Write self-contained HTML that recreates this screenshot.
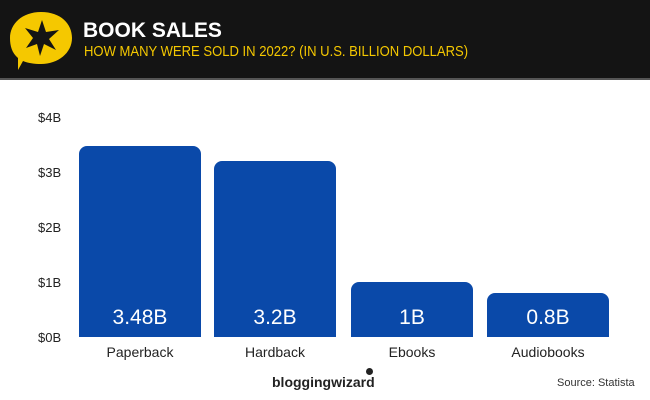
<!DOCTYPE html>
<html><head><style>
body{margin:0;width:650px;height:400px;background:#fff;font-family:"Liberation Sans",sans-serif;position:relative;overflow:hidden}
.hdr{position:absolute;left:0;top:0;width:650px;height:78px;background:#141414;border-bottom:2px solid #555}
.t1{position:absolute;left:83px;top:19px;color:#fff;font-weight:bold;font-size:21px}
.t2{position:absolute;left:84px;top:43px;color:#f5c800;font-size:15px;transform:scaleX(0.87);transform-origin:left}
.yl{position:absolute;left:38px;font-size:13px;color:#222}
.bar{position:absolute;background:#0a49a9;border-radius:8px 8px 0 0;bottom:63px;width:122px;color:#fff;font-size:21px;text-align:center}
.bar span{position:absolute;left:0;right:0;bottom:7px}
.cl{position:absolute;top:344px;width:122px;text-align:center;font-size:14px;color:#222}
</style></head><body>
<div class="hdr">
<svg width="70" height="70" style="position:absolute;left:6px;top:8px" viewBox="0 0 70 70">
<path d="M35 4 C55 4 66 16 66 30 C66 45 52 56 35 56 C28 56 22 55 17 53 L12 62 L12 50 C6 45 4 38 4 30 C4 16 16 4 35 4Z" fill="#f5c800"/>
<path d="M36 12 L40 24 L53 22 L43 31 L50 42 L38 36 L34 48 L31 36 L20 40 L27 30 L19 20 L32 24Z" fill="#141414"/>
</svg>
<div class="t1">BOOK SALES</div>
<div class="t2">HOW MANY WERE SOLD IN 2022? (IN U.S. BILLION DOLLARS)</div>
</div>
<div class="yl" style="top:110px">$4B</div>
<div class="yl" style="top:165px">$3B</div>
<div class="yl" style="top:220px">$2B</div>
<div class="yl" style="top:275px">$1B</div>
<div class="yl" style="top:330px">$0B</div>
<div class="bar" style="left:79px;height:191px"><span>3.48B</span></div>
<div class="bar" style="left:214px;height:176px"><span>3.2B</span></div>
<div class="bar" style="left:351px;height:55px"><span>1B</span></div>
<div class="bar" style="left:487px;height:44px"><span>0.8B</span></div>
<div class="cl" style="left:79px">Paperback</div>
<div class="cl" style="left:214px">Hardback</div>
<div class="cl" style="left:351px">Ebooks</div>
<div class="cl" style="left:487px">Audiobooks</div>
<div style="position:absolute;left:272px;top:374px;font-size:14px;font-weight:bold;color:#222">bloggingwizard</div>
<div style="position:absolute;left:366px;top:368px;width:7px;height:7px;border-radius:50%;background:#222"></div>
<div style="position:absolute;left:557px;top:377px;font-size:11px;color:#333">Source: Statista</div>
</body></html>
